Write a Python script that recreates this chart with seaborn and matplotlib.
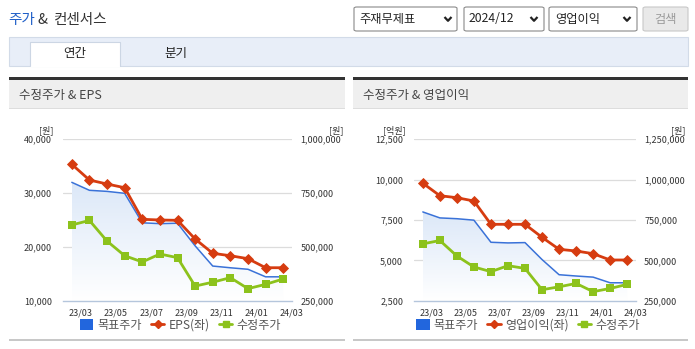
import numpy as np
import pandas as pd
import matplotlib
matplotlib.use("Agg")
import matplotlib.pyplot as plt
import seaborn as sns
from matplotlib.patches import Rectangle, FancyBboxPatch, Patch
from matplotlib.lines import Line2D
from matplotlib.colors import LinearSegmentedColormap

# ---------------- data ----------------
months = ["23/03", "23/04", "23/05", "23/06", "23/07", "23/08", "23/09",
          "23/10", "23/11", "23/12", "24/01", "24/02", "24/03"]
tick_labels = ["23/03", "23/05", "23/07", "23/09", "23/11", "24/01", "24/03"]
target_price = [800000, 763000, 758000, 749000, 612000, 608000, 610000,
                505000, 411000, 403000, 396000, 361000, 361000]
adj_price = [602000, 623000, 527000, 459000, 430000, 467000, 450000,
             318000, 336000, 357000, 306000, 326000, 351000]
eps = [35350, 32430, 31690, 31000, 25130, 25000, 24940,
       21470, 18810, 18360, 17810, 16130, 16130]
op_profit = [9780, 9005, 8882, 8677, 7233, 7233, 7233,
             6428, 5685, 5580, 5413, 5022, 5022]

df = pd.DataFrame({"idx": np.arange(len(months)), "month": months,
                   "target": target_price, "price": adj_price,
                   "eps": eps, "op": op_profit})

# ---------------- style ----------------
sns.set_style("white")
plt.rcParams["font.family"] = ["Noto Sans CJK KR", "DejaVu Sans"]

W, H = 695, 349
fig = plt.figure(figsize=(W / 100, H / 100), dpi=100)
fig.patch.set_facecolor("white")

def fx(x):
    return x / W

def fy(y):
    return 1 - y / H

def rect(x0, y0, x1, y1, fc, ec="none", lw=0, z=0):
    r = Rectangle((fx(x0), fy(y1)), (x1 - x0) / W, (y1 - y0) / H,
                  transform=fig.transFigure, facecolor=fc, edgecolor=ec,
                  linewidth=lw, zorder=z)
    fig.patches.append(r)
    return r

def ftext(x, y, s, size=8.5, color="#333333", ha="left", va="center", **kw):
    fig.text(fx(x), fy(y), s, fontsize=size, color=color, ha=ha, va=va, **kw)

def rbox(x0, y0, x1, y1, fc, ec):
    b = FancyBboxPatch((fx(x0), fy(y1)), (x1 - x0) / W, (y1 - y0) / H,
                       boxstyle="round,pad=0,rounding_size=0.004",
                       transform=fig.transFigure, facecolor=fc,
                       edgecolor=ec, linewidth=0.8)
    fig.patches.append(b)

def chevron(cx, cy):
    xs = [fx(cx - 3.5), fx(cx), fx(cx + 3.5)]
    ys = [fy(cy - 2), fy(cy + 1.8), fy(cy - 2)]
    fig.lines.append(Line2D(xs, ys, transform=fig.transFigure,
                            color="#222222", linewidth=1.6,
                            solid_capstyle="butt"))

# ---------------- page header ----------------
ftext(8, 20, "주가", size=10.5, color="#1f5fc8")
ftext(38, 20, "&", size=10.5, color="#333333")
ftext(54, 20, "컨센서스", size=10.5, color="#333333")

rbox(354, 7, 457, 31, "white", "#8a8a8a")
ftext(359, 19, "주재무제표", size=8.8, color="#222222")
chevron(448, 19)
rbox(464, 7, 544, 31, "white", "#8a8a8a")
ftext(469, 19, "2024/12", size=8.8, color="#222222")
chevron(534, 19)
rbox(549, 7, 637, 31, "white", "#8a8a8a")
ftext(555, 19, "영업이익", size=8.8, color="#222222")
chevron(627, 19)
rbox(643, 7, 688, 31, "#e9e9e9", "#c8c8c8")
ftext(665.5, 19, "검색", size=8.8, color="#9a9a9a", ha="center")

# tab bar
rect(9, 37, 688, 66, "#e8eef8", "#d2dbe8", 0.8)
rect(30, 42, 120, 66.6, "white", "none")
fig.lines.append(Line2D([fx(30), fx(30), fx(120), fx(120)],
                        [fy(66), fy(42), fy(42), fy(66)],
                        transform=fig.transFigure, color="#ccd6e4", lw=0.8))
ftext(75, 54, "연간", size=9, color="#222222", ha="center")
ftext(176, 54, "분기", size=9, color="#222222", ha="center")

# panel headers
for (x0, x1, title) in [(9, 345, "수정주가 & EPS"), (353, 688, "수정주가 & 영업이익")]:
    rect(x0, 79, x1, 109, "#efefef", "none")
    rect(x0, 77, x1, 79.5, "#333333", "none")
    rect(x0, 108.5, x1, 109.5, "#dddddd", "none")
    rect(x0, 338.5, x1, 341, "#c8c8c8", "none")
    ftext(x0 + 10, 95, title, size=9, color="#444444")

# ---------------- charts ----------------
RED = "#d63c10"
GREEN = "#8cc21c"
BLUE = "#3a72d8"
TICKC = "#333333"

def make_chart(x0, x1, left_col, left_lim, left_ticks, right_ticks,
               left_unit, legend_label, unit_pos):
    ax = fig.add_axes([fx(x0), fy(300.7), (x1 - x0) / W, (300.7 - 139.3) / H])
    ax2 = ax.twinx()
    ax.patch.set_visible(False)
    ax2.patch.set_visible(False)

    n = len(months)
    ax2.set_xlim(-0.5, n - 0.5)
    ax2.set_ylim(right_ticks[0], right_ticks[-1])
    # gradient fill under target price (right axis)
    fill = ax2.fill_between(df["idx"], df["target"], right_ticks[0],
                            color="none", linewidth=0)
    grad = np.linspace(1, 0, 256).reshape(-1, 1)
    cmap = LinearSegmentedColormap.from_list("g", ["#ffffff", "#dce8f8"])
    im = ax2.imshow(grad, cmap=cmap, aspect="auto",
                    extent=[0, n - 1, right_ticks[0], max(target_price)],
                    origin="upper", zorder=1, vmin=0, vmax=1)
    im.set_clip_path(fill.get_paths()[0], transform=ax2.transData)
    ax2.set_xlim(-0.5, n - 0.5)
    ax2.set_ylim(right_ticks[0], right_ticks[-1])

    sns.lineplot(data=df, x="idx", y="target", ax=ax2, color=BLUE,
                 linewidth=1.1, legend=False, zorder=3)
    sns.lineplot(data=df, x="idx", y="price", ax=ax2, color=GREEN,
                 linewidth=2.0, marker="s", markersize=6.2, mec=GREEN,
                 mew=0, legend=False, zorder=4)
    sns.lineplot(data=df, x="idx", y=left_col, ax=ax, color=RED,
                 linewidth=2.0, marker="D", markersize=5, mec=RED,
                 mew=0.6, legend=False, zorder=4)
    ax.set_zorder(3)
    ax2.set_zorder(2)

    ax.set_xlim(-0.5, n - 0.5)
    ax.set_ylim(left_lim)
    ax.set_yticks(left_ticks)
    ax.set_yticklabels([f"{v:,}" for v in left_ticks])
    ax2.set_yticks(right_ticks)
    ax2.set_yticklabels([f"{v:,}" for v in right_ticks])
    xt = [-0.5] + [i + 0.5 for i in range(0, n, 2)]
    ax.set_xticks(xt)
    ax.set_xticklabels([""] + tick_labels)
    for a in (ax, ax2):
        a.set_xlabel("")
        a.set_ylabel("")
        a.grid(False)
    for v in right_ticks[1:]:
        ax2.axhline(v, color="#dcdcdc", linewidth=0.9, zorder=0)

    for a in (ax, ax2):
        for s in a.spines.values():
            s.set_visible(False)
    ax.spines["bottom"].set_visible(True)
    ax.spines["bottom"].set_color("#b5c6dc")
    ax.spines["bottom"].set_linewidth(1.0)

    ax.tick_params(axis="x", length=4, width=0.9, color="#b5c6dc",
                   labelsize=6.5, labelcolor=TICKC, pad=1.5, direction="out")
    ax.tick_params(axis="y", length=0, labelsize=6.5, labelcolor=TICKC, pad=8)
    ax2.tick_params(axis="y", length=0, labelsize=6.5, labelcolor=TICKC, pad=6)
    ax2.tick_params(axis="x", length=0, labelbottom=False)

    ftext(unit_pos[0], 130, left_unit, size=6.5, color=TICKC, ha="center")
    ftext(unit_pos[1], 130, "[원]", size=6.5, color=TICKC, ha="center")

    handles = [Patch(facecolor="#2266dd", edgecolor="none"),
               Line2D([0], [0], color=RED, lw=2.0, marker="D", markersize=4,
                      mec=RED),
               Line2D([0], [0], color=GREEN, lw=2.0, marker="s", markersize=5,
                      mec=GREEN)]
    fig.legend(handles, ["목표주가", legend_label, "수정주가"],
               loc="center", bbox_to_anchor=(fx((x0 + x1) / 2 + 3), fy(325.5)),
               ncol=3, frameon=False, fontsize=8.7, labelcolor="#555555",
               handlelength=1.1, handleheight=1.0, handletextpad=0.35,
               columnspacing=0.75, borderpad=0)
    return ax, ax2

make_chart(63, 292, "eps", (10000, 40000), [10000, 20000, 30000, 40000],
           [250000, 500000, 750000, 1000000], "[원]", "EPS(좌)", (46, 336))
make_chart(414.3, 635.7, "op", (2500, 12500), [2500, 5000, 7500, 10000, 12500],
           [250000, 500000, 750000, 1000000, 1250000], "[억원]", "영업이익(좌)",
           (394, 678))

fig.savefig("out.png", dpi=100)
